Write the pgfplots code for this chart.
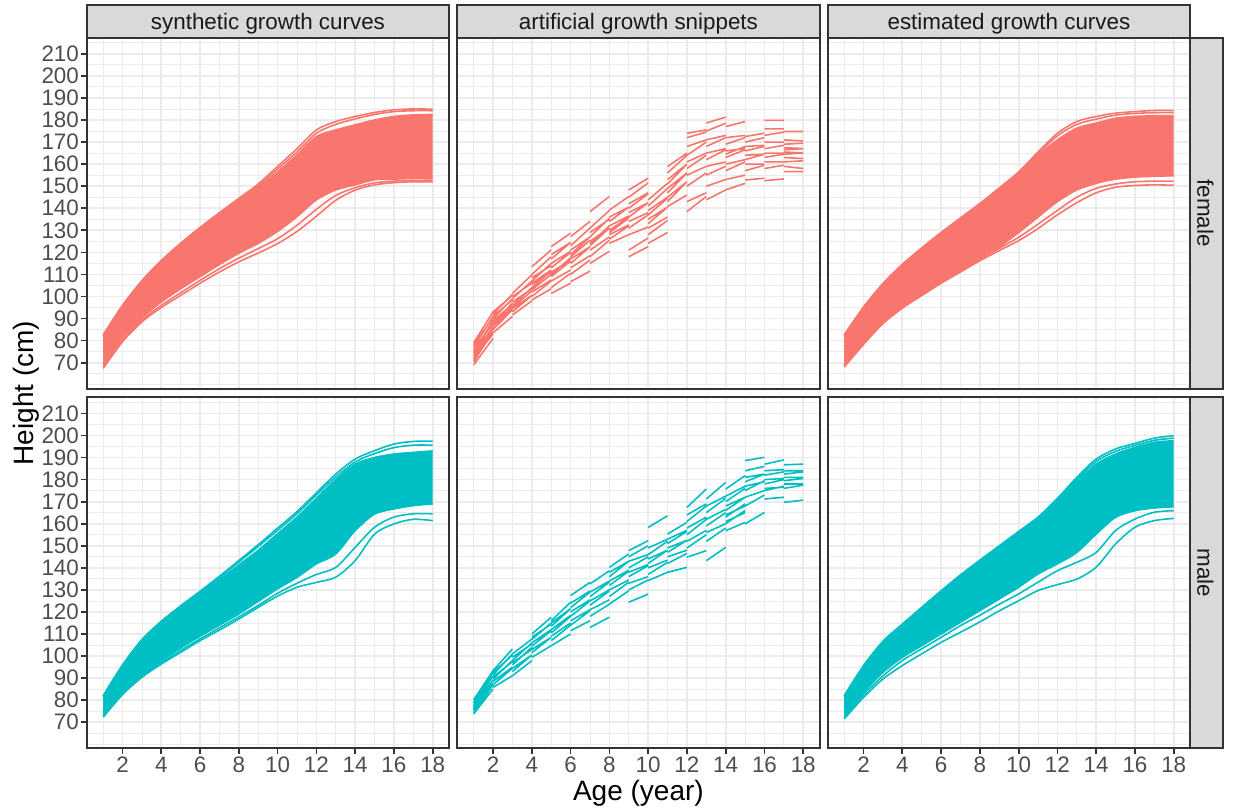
\documentclass[border=0pt]{standalone}
\usepackage{pgfplots}
\pgfplotsset{compat=1.18}
\usepackage{fontspec}
\setmainfont{Liberation Sans}
\definecolor{fem}{HTML}{F8766D}
\definecolor{mal}{HTML}{00BFC4}
\definecolor{g20}{HTML}{333333}
\definecolor{g30}{HTML}{4D4D4D}
\definecolor{g10}{HTML}{1A1A1A}
\definecolor{g85}{HTML}{D9D9D9}
\definecolor{g92}{HTML}{EBEBEB}
\pgfplotsset{
  panel/.style={
    scale only axis, width=181.25pt, height=175.5pt,
    xmin=0.15, xmax=18.85, ymin=58.2, ymax=217.3,
    anchor=south west,
    axis line style={draw=g20, line width=0.85pt},
    xtick={2,4,...,18}, minor xtick={1,3,...,17},
    ytick={70,80,...,210}, minor ytick={60,65,...,215},
    grid=both,
    major grid style={draw=g92, line width=0.85pt},
    minor grid style={draw=g92, line width=0.43pt},
    tick style={draw=g20, line width=0.85pt},
    major tick length=2.7pt, minor tick length=0pt,
    tick align=outside, tick pos=left,
    /pgf/number format/assume math mode=true,
    xticklabel style={font=\fontsize{11.2}{13}\selectfont, text=g30, inner sep=0pt, anchor=north, yshift=-1.5pt},
    yticklabel style={font=\fontsize{11.2}{13}\selectfont, text=g30, inner sep=0pt, anchor=east, xshift=-1pt},
  },
  notop/.style={xticklabels={}, xtick style={draw=none}},
  noleft/.style={yticklabels={}, ytick style={draw=none}},
  cf/.style={fem, line width=0.8pt, smooth},
  cm/.style={mal, line width=0.8pt, smooth},
  sf/.style={fem, line width=0.8pt, unbounded coords=jump},
  sm/.style={mal, line width=0.8pt, unbounded coords=jump},
}
\begin{document}
\begin{tikzpicture}
\path[use as bounding box] (0,0) rectangle (616.5pt,405pt);

% ---------------- top left: synthetic female
\begin{axis}[panel, notop, name=p11, at={(43.35pt,210.65pt)}]
\addplot[fill=fem, draw=none] coordinates {(1,82.2)(2,95.5)(3,106.5)(4,115.5)(5,123.3)(6,130.3)(7,136.8)(8,143.2)(9,149.5)(10,156.5)(11,164.2)(12,172.5)(13,175.5)(14,177.8)(15,180)(16,181.6)(17,182.3)(18,182.5)
(18,153.6)(17,153.5)(16,153.2)(15,152.9)(14,150.6)(13,148.3)(12,143.8)(11,136.2)(10,129.5)(9,124.1)(8,119.6)(7,114.5)(6,109)(5,103.5)(4,97.5)(3,90.3)(2,81.5)(1,69)};
\addplot[cf] coordinates {(1,82.2)(2,95.5)(3,106.5)(4,115.5)(5,123.3)(6,130.3)(7,136.8)(8,143.2)(9,149.5)(10,156.5)(11,164.2)(12,172.5)(13,175.5)(14,177.8)(15,180)(16,181.6)(17,182.3)(18,182.5)};
\addplot[cf] coordinates {(1,69)(2,81.5)(3,90.3)(4,97.5)(5,103.5)(6,109)(7,114.5)(8,119.6)(9,124.1)(10,129.5)(11,136.2)(12,143.8)(13,148.3)(14,150.6)(15,152.9)(16,153.2)(17,153.5)(18,153.6)};
\addplot[cf] coordinates {(1,82.6)(2,96)(3,107.2)(4,116.3)(5,124.2)(6,131.3)(7,138)(8,144.5)(9,151)(10,159)(11,167)(12,175.5)(13,179.3)(14,181.6)(15,183.4)(16,184.6)(17,185)(18,184.9)};
\addplot[cf] coordinates {(1,82.4)(2,95.8)(3,106.9)(4,116)(5,123.8)(6,130.8)(7,137.4)(8,143.8)(9,150.2)(10,157.8)(11,165.5)(12,174)(13,178)(14,180.5)(15,182.5)(16,183.8)(17,184.2)(18,184.2)};
\addplot[cf] coordinates {(1,68)(2,80.3)(3,89.3)(4,96)(5,101.7)(6,107.3)(7,112.6)(8,117.4)(9,121.7)(10,126.2)(11,132.3)(12,139.5)(13,145.8)(14,149.3)(15,151.5)(16,152.3)(17,152.6)(18,152.7)};
\addplot[cf] coordinates {(1,67.4)(2,79.5)(3,88.5)(4,95)(5,100.5)(6,106)(7,111.1)(8,115.7)(9,119.7)(10,124)(11,129.5)(12,136.4)(13,143.6)(14,148.2)(15,150.6)(16,151.6)(17,152)(18,152)};
\end{axis}

% ---------------- top middle: snippets female
\begin{axis}[panel, notop, noleft, name=p12, at={(228.6pt,210.65pt)}]
\addplot[sf] coordinates {
(1,69)(2,81)(2,nan) (1,70.5)(2,84)(2,nan) (1,72)(2,83)(2,nan) (1,73)(2,86.5)(2,nan) (1,74)(2,86)(2,nan) (1,75)(2,89)(2,nan)
(1,76)(2,88)(2,nan) (1,77)(2,91)(2,nan) (1,78)(2,90.5)(2,nan) (1,79)(2,93)(2,nan) (1,71.5)(2,85.5)(2,nan) (1,74.5)(2,88.5)(2,nan)
(2,83.5)(3,91)(3,nan) (2,85)(3,94)(3,nan) (2,86.5)(3,94.5)(3,nan) (2,88)(3,97)(3,nan) (2,89)(3,96.5)(3,nan)
(2,90)(3,99)(3,nan) (2,91)(3,98.5)(3,nan) (2,92)(3,101)(3,nan) (2,93)(3,100.5)(3,nan) (2,87)(3,95.5)(3,nan)
(3,91.6)(4,98)(4,nan) (3,93)(4,100.5)(4,nan) (3,94.5)(4,100.5)(4,nan) (3,96)(4,104)(4,nan) (3,97.5)(4,103.5)(4,nan)
(3,99)(4,107)(4,nan) (3,100)(4,106)(4,nan) (3,101.4)(4,109.8)(4,nan) (3,95)(4,102.5)(4,nan)
(4,98.4)(5,103.5)(5,nan) (4,100)(5,107)(5,nan) (4,102)(5,107.5)(5,nan) (4,104)(5,111.5)(5,nan) (4,105.5)(5,111)(5,nan)
(4,107)(5,115)(5,nan) (4,108.5)(5,114)(5,nan) (4,110)(5,118)(5,nan) (4,113.5)(5,121.1)(5,nan) (4,103)(5,110)(5,nan) (4,106)(5,112)(5,nan)
(5,101.4)(6,106)(6,nan) (5,104)(6,110.5)(6,nan) (5,107)(6,112)(6,nan) (5,109)(6,116)(6,nan) (5,111)(6,116.5)(6,nan)
(5,113)(6,120)(6,nan) (5,115)(6,120.5)(6,nan) (5,117)(6,124.5)(6,nan) (5,119)(6,124.5)(6,nan) (5,122.6)(6,128.7)(6,nan) (5,110)(6,117.5)(6,nan)
(6,106.7)(7,111.5)(7,nan) (6,110)(7,116.5)(7,nan) (6,113)(7,118.5)(7,nan) (6,115)(7,122.5)(7,nan) (6,117)(7,122.5)(7,nan)
(6,119)(7,127)(7,nan) (6,121)(7,127)(7,nan) (6,123)(7,131)(7,nan) (6,127.1)(7,134)(7,nan) (6,118)(7,125.5)(7,nan)
(7,115)(8,120.5)(8,nan) (7,118)(8,125.5)(8,nan) (7,121)(8,127)(8,nan) (7,123)(8,131)(8,nan) (7,125)(8,131)(8,nan)
(7,127)(8,135.5)(8,nan) (7,129)(8,135)(8,nan) (7,131)(8,139)(8,nan) (7,138.5)(8,145.3)(8,nan) (7,124)(8,132)(8,nan)
(8,124.1)(9,128)(9,nan) (8,126)(9,132)(9,nan) (8,128)(9,132.5)(9,nan) (8,130)(9,136)(9,nan) (8,132)(9,136.5)(9,nan)
(8,134)(9,140.5)(9,nan) (8,136)(9,140.5)(9,nan) (8,139.2)(9,145.3)(9,nan) (8,129)(9,135.5)(9,nan)
(9,118)(10,122.6)(10,nan) (9,121)(10,126.5)(10,nan) (9,128)(10,131.5)(10,nan) (9,131)(10,137)(10,nan) (9,134)(10,138)(10,nan)
(9,136)(10,142.5)(10,nan) (9,138)(10,142.5)(10,nan) (9,140)(10,146.5)(10,nan) (9,142)(10,147)(10,nan) (9,145)(10,151.5)(10,nan) (9,148.3)(10,153.6)(10,nan)
(10,124.1)(11,129)(11,nan) (10,128)(11,134.5)(11,nan) (10,131)(11,136)(11,nan) (10,133)(11,140.5)(11,nan) (10,135)(11,140.5)(11,nan)
(10,137)(11,144.5)(11,nan) (10,139)(11,145)(11,nan) (10,141)(11,149)(11,nan) (10,143.8)(11,151.3)(11,nan)
(11,140.8)(12,146)(12,nan) (11,143)(12,152)(12,nan) (11,145)(12,152)(12,nan) (11,147)(12,156)(12,nan) (11,149)(12,156)(12,nan)
(11,151)(12,160)(12,nan) (11,153)(12,160)(12,nan) (11,156)(12,164)(12,nan) (11,158.9)(12,165)(12,nan)
(12,138.5)(13,145.3)(13,nan) (12,143)(13,147)(13,nan) (12,150)(13,156)(13,nan) (12,155)(13,159)(13,nan) (12,158)(13,164)(13,nan)
(12,161)(13,165)(13,nan) (12,164)(13,170)(13,nan) (12,168)(13,171)(13,nan) (12,172)(13,174.5)(13,nan) (12,174)(13,175.5)(13,nan)
(13,143.8)(14,148.3)(14,nan) (13,150)(14,153)(14,nan) (13,155)(14,159)(14,nan) (13,159)(14,161)(14,nan) (13,162)(14,166.5)(14,nan)
(13,165)(14,167)(14,nan) (13,168)(14,172)(14,nan) (13,171)(14,173)(14,nan) (13,175)(14,178.5)(14,nan) (13,178.6)(14,181.3)(14,nan)
(14,148.3)(15,151.3)(15,nan) (14,153)(15,155)(15,nan) (14,157)(15,161)(15,nan) (14,160)(15,162)(15,nan) (14,163)(15,166.5)(15,nan)
(14,166)(15,167)(15,nan) (14,169)(15,172)(15,nan) (14,172)(15,173)(15,nan) (14,177)(15,179.3)(15,nan) (14,164.5)(15,168)(15,nan)
(15,152.8)(16,153.6)(16,nan) (15,157)(16,159.5)(16,nan) (15,160)(16,160)(16,nan) (15,162)(16,164.5)(16,nan) (15,164)(16,164.5)(16,nan)
(15,166)(16,168)(16,nan) (15,168)(16,168.5)(16,nan) (15,170)(16,172)(16,nan) (15,172.5)(16,174)(16,nan)
(16,152.5)(17,153.3)(17,nan) (16,158)(17,159.5)(17,nan) (16,161)(17,161)(17,nan) (16,163)(17,164.5)(17,nan) (16,165)(17,165)(17,nan)
(16,167)(17,168.5)(17,nan) (16,170)(17,170)(17,nan) (16,173)(17,174.5)(17,nan) (16,176)(17,176)(17,nan) (16,179.8)(17,179.8)(17,nan)
(17,156.6)(18,156.6)(18,nan) (17,159)(18,158)(18,nan) (17,161)(18,161.5)(18,nan) (17,163)(18,162.5)(18,nan) (17,164.5)(18,165)(18,nan)
(17,165.5)(18,165)(18,nan) (17,166.5)(18,167)(18,nan) (17,167.5)(18,167)(18,nan) (17,169)(18,169.5)(18,nan) (17,171)(18,170.5)(18,nan) (17,174.8)(18,174.8)
};
\end{axis}

% ---------------- top right: estimated female
\begin{axis}[panel, notop, noleft, name=p13, at={(413.85pt,210.65pt)}]
\addplot[fill=fem, draw=none] coordinates {(1,82.2)(2,94.8)(3,105.3)(4,114)(5,121.5)(6,128.5)(7,135)(8,141.5)(9,148.5)(10,155.5)(11,164)(12,171)(13,176.3)(14,178.6)(15,180.8)(16,181.6)(17,181.9)(18,181.9)
(18,154.7)(17,154.5)(16,154.1)(15,153.2)(14,151.3)(13,148.3)(12,143)(11,136)(10,129)(9,122.5)(8,117.5)(7,112)(6,106.8)(5,101)(4,95.3)(3,88.3)(2,79)(1,69)};
\addplot[cf] coordinates {(1,82.2)(2,94.8)(3,105.3)(4,114)(5,121.5)(6,128.5)(7,135)(8,141.5)(9,148.5)(10,155.5)(11,164)(12,171)(13,176.3)(14,178.6)(15,180.8)(16,181.6)(17,181.9)(18,181.9)};
\addplot[cf] coordinates {(1,69)(2,79)(3,88.3)(4,95.3)(5,101)(6,106.8)(7,112)(8,117.5)(9,122.5)(10,129)(11,136)(12,143)(13,148.3)(14,151.3)(15,153.2)(16,154.1)(17,154.5)(18,154.7)};
\addplot[cf] coordinates {(1,82.6)(2,95.2)(3,105.9)(4,114.6)(5,122)(6,129)(7,135.6)(8,142.2)(9,149.2)(10,156.5)(11,165.5)(12,174)(13,179.3)(14,181.6)(15,183.1)(16,183.8)(17,184.3)(18,184.3)};
\addplot[cf] coordinates {(1,82.4)(2,95)(3,105.6)(4,114.3)(5,121.8)(6,128.8)(7,135.3)(8,141.8)(9,148.8)(10,156)(11,164.8)(12,172.8)(13,178)(14,180.4)(15,182.2)(16,183)(17,183.3)(18,183.3)};
\addplot[cf] coordinates {(1,68.5)(2,78.6)(3,88)(4,95)(5,100.7)(6,106.4)(7,111.6)(8,116.8)(9,121.8)(10,126.8)(11,132.8)(12,139)(13,145)(14,149)(15,151)(16,152)(17,152.3)(18,152.3)};
\addplot[cf] coordinates {(1,68)(2,78.3)(3,87.7)(4,94.7)(5,100.4)(6,106)(7,111.1)(8,116.2)(9,120.8)(10,125.3)(11,130.8)(12,137)(13,142.5)(14,147)(15,149.5)(16,150.3)(17,150.6)(18,150.4)};
\end{axis}

% ---------------- bottom left: synthetic male
\begin{axis}[panel, name=p21, at={(43.35pt,30.85pt)}]
\addplot[fill=mal, draw=none] coordinates {(1,81.5)(2,95.5)(3,106.8)(4,115)(5,122)(6,128.3)(7,134.7)(8,141.3)(9,148)(10,155.5)(11,163)(12,171.5)(13,180)(14,187)(15,190)(16,191.6)(17,192.3)(18,193)
(18,169)(17,168.2)(16,166.7)(15,164.4)(14,156.9)(13,146.3)(12,141.8)(11,135.7)(10,130.5)(9,124.8)(8,119.1)(7,114)(6,109)(5,103.6)(4,97.8)(3,91)(2,83)(1,73)};
\addplot[cm] coordinates {(1,81.5)(2,95.5)(3,106.8)(4,115)(5,122)(6,128.3)(7,134.7)(8,141.3)(9,148)(10,155.5)(11,163)(12,171.5)(13,180)(14,187)(15,190)(16,191.6)(17,192.3)(18,193)};
\addplot[cm] coordinates {(1,73)(2,83)(3,91)(4,97.8)(5,103.6)(6,109)(7,114)(8,119.1)(9,124.8)(10,130.5)(11,135.7)(12,141.8)(13,146.3)(14,156.9)(15,164.4)(16,166.7)(17,168.2)(18,169)};
\addplot[cm] coordinates {(1,82)(2,96)(3,107.5)(4,115.8)(5,122.8)(6,129.4)(7,136.2)(8,143.3)(9,150.5)(10,158)(11,165.5)(12,174)(13,182.5)(14,189.3)(15,193.1)(16,196.1)(17,197.3)(18,197.4)};
\addplot[cm] coordinates {(1,81.8)(2,95.8)(3,107.2)(4,115.5)(5,122.5)(6,129)(7,135.6)(8,142.6)(9,149.7)(10,157)(11,164.5)(12,173)(13,181.2)(14,188)(15,191.8)(16,194.5)(17,195.6)(18,195.6)};
\addplot[cm] coordinates {(1,72.6)(2,82.8)(3,90.6)(4,97)(5,102.5)(6,107.8)(7,112.8)(8,117.8)(9,123)(10,128.5)(11,133)(12,137)(13,140.2)(14,149.3)(15,158.4)(16,163)(17,164.5)(18,164.5)};
\addplot[cm] coordinates {(1,72.3)(2,82.6)(3,90.4)(4,96.4)(5,101.7)(6,107)(7,111.8)(8,116.8)(9,122.1)(10,127.2)(11,131.2)(12,133.4)(13,135.8)(14,143.3)(15,155.3)(16,159.9)(17,162)(18,161.4)};
\end{axis}

% ---------------- bottom middle: snippets male
\begin{axis}[panel, noleft, name=p22, at={(228.6pt,30.85pt)}]
\addplot[sm] coordinates {
(1,73.8)(2,85.1)(2,nan) (1,74.5)(2,87)(2,nan) (1,75.5)(2,87)(2,nan) (1,76)(2,89)(2,nan) (1,77)(2,89)(2,nan)
(1,77.5)(2,91)(2,nan) (1,78.5)(2,91)(2,nan) (1,79)(2,92.8)(2,nan) (1,80.2)(2,93.4)(2,nan) (1,76.5)(2,87.5)(2,nan)
(2,85.8)(3,91.1)(3,nan) (2,87)(3,94.5)(3,nan) (2,88.5)(3,95)(3,nan) (2,89.5)(3,98)(3,nan) (2,90.5)(3,97.5)(3,nan)
(2,91.5)(3,101)(3,nan) (2,92.5)(3,100.5)(3,nan) (2,93.4)(3,103.2)(3,nan)
(3,91.1)(4,97.9)(4,nan) (3,93)(4,100.5)(4,nan) (3,94.5)(4,100.5)(4,nan) (3,96)(4,104)(4,nan) (3,97)(4,103)(4,nan)
(3,98)(4,106)(4,nan) (3,99.5)(4,105.5)(4,nan) (3,101)(4,107.7)(4,nan)
(4,99.4)(5,104.7)(5,nan) (4,101.5)(5,108.5)(5,nan) (4,103)(5,108.5)(5,nan) (4,104.5)(5,111.5)(5,nan) (4,106)(5,112)(5,nan)
(4,107.5)(5,115)(5,nan) (4,108.5)(5,114.5)(5,nan) (4,110)(5,117.6)(5,nan)
(5,104.7)(6,110)(6,nan) (5,107)(6,114)(6,nan) (5,109)(6,115)(6,nan) (5,110.5)(6,118)(6,nan) (5,112)(6,118.5)(6,nan)
(5,113.5)(6,121.5)(6,nan) (5,115)(6,121.5)(6,nan) (5,116)(6,124.4)(6,nan)
(6,111.5)(7,116)(7,nan) (6,114)(7,120.5)(7,nan) (6,116)(7,121)(7,nan) (6,118)(7,125)(7,nan) (6,120)(7,125.5)(7,nan)
(6,122)(7,129)(7,nan) (6,124)(7,129.5)(7,nan) (6,127.4)(7,133.4)(7,nan)
(7,113)(8,117.6)(8,nan) (7,118)(8,123.5)(8,nan) (7,121)(8,125.5)(8,nan) (7,123)(8,129.5)(8,nan) (7,125)(8,130)(8,nan)
(7,127)(8,133.5)(8,nan) (7,129)(8,134)(8,nan) (7,132.7)(8,138.7)(8,nan)
(8,123.6)(9,129.6)(9,nan) (8,127)(9,133.5)(9,nan) (8,130)(9,134.5)(9,nan) (8,132)(9,138.5)(9,nan) (8,134)(9,139)(9,nan)
(8,136)(9,143)(9,nan) (8,138)(9,143)(9,nan) (8,140.2)(9,146.3)(9,nan)
(9,124.4)(10,128.1)(10,nan) (9,130)(10,134.5)(10,nan) (9,133)(10,136)(10,nan) (9,136)(10,141)(10,nan) (9,138)(10,141.5)(10,nan)
(9,140)(10,145)(10,nan) (9,143)(10,146)(10,nan) (9,145)(10,150)(10,nan) (9,147.8)(10,152.3)(10,nan)
(10,134.2)(11,138)(11,nan) (10,137)(11,142.5)(11,nan) (10,140)(11,143.5)(11,nan) (10,142)(11,148)(11,nan) (10,144)(11,148)(11,nan)
(10,146)(11,152)(11,nan) (10,149)(11,153)(11,nan) (10,158.3)(11,163.6)(11,nan)
(11,138)(12,140.2)(12,nan) (11,142)(12,146.5)(12,nan) (11,145)(12,148)(12,nan) (11,147)(12,152.5)(12,nan) (11,149)(12,152.5)(12,nan)
(11,151)(12,156.5)(12,nan) (11,153)(12,157)(12,nan) (11,155.3)(12,160.6)(12,nan)
(12,144.8)(13,147.8)(13,nan) (12,149)(13,155)(13,nan) (12,152)(13,157)(13,nan) (12,155)(13,162)(13,nan) (12,158)(13,163)(13,nan)
(12,161)(13,168)(13,nan) (12,164)(13,169)(13,nan) (12,167.4)(13,175.7)(13,nan)
(13,143.2)(14,149.3)(14,nan) (13,152)(14,158)(14,nan) (13,156)(14,160)(14,nan) (13,159)(14,165)(14,nan) (13,162)(14,166.5)(14,nan)
(13,165)(14,171.5)(14,nan) (13,168)(14,172.5)(14,nan) (13,171.2)(14,178.7)(14,nan)
(14,156.8)(15,160.6)(15,nan) (14,160)(15,166)(15,nan) (14,161)(15,165)(15,nan) (14,163)(15,169)(15,nan) (14,164)(15,168)(15,nan)
(14,166)(15,172)(15,nan) (14,168)(15,172)(15,nan) (14,170)(15,176)(15,nan) (14,172.5)(15,177)(15,nan) (14,175.7)(15,181.8)(15,nan)
(15,159.9)(16,165.1)(16,nan) (15,168)(16,173)(16,nan) (15,172)(16,175)(16,nan) (15,175)(16,179.5)(16,nan) (15,177)(16,179)(16,nan)
(15,179)(16,182.5)(16,nan) (15,181)(16,182.5)(16,nan) (15,184)(16,186)(16,nan) (15,188.6)(16,190.1)(16,nan)
(16,171.2)(17,172)(17,nan) (16,175)(17,177)(17,nan) (16,176)(17,176.5)(17,nan) (16,178)(17,180)(17,nan) (16,180)(17,180.5)(17,nan)
(16,182)(17,183.5)(17,nan) (16,184)(17,184.5)(17,nan) (16,187)(17,188.9)(17,nan)
(17,169.7)(18,170.7)(18,nan) (17,176)(18,177.5)(18,nan) (17,178)(18,178)(18,nan) (17,179.5)(18,180.5)(18,nan) (17,181)(18,181)(18,nan)
(17,182.5)(18,183.5)(18,nan) (17,184)(18,184)(18,nan) (17,186.7)(18,187)
};
\end{axis}

% ---------------- bottom right: estimated male
\begin{axis}[panel, noleft, name=p23, at={(413.85pt,30.85pt)}]
\addplot[fill=mal, draw=none] coordinates {(1,81.5)(2,95)(3,106)(4,114)(5,121.5)(6,129)(7,136.2)(8,142.8)(9,149.2)(10,155.5)(11,161.8)(12,170)(13,179)(14,187)(15,191.6)(16,194.6)(17,196.9)(18,197.6)
(18,167.7)(17,167.1)(16,165.9)(15,162.9)(14,155.3)(13,147)(12,141.8)(11,137.2)(10,131.2)(9,125.9)(8,120.6)(7,115.3)(6,110)(5,104.7)(4,99.4)(3,92.6)(2,83.6)(1,72.5)};
\addplot[cm] coordinates {(1,81.5)(2,95)(3,106)(4,114)(5,121.5)(6,129)(7,136.2)(8,142.8)(9,149.2)(10,155.5)(11,161.8)(12,170)(13,179)(14,187)(15,191.6)(16,194.6)(17,196.9)(18,197.6)};
\addplot[cm] coordinates {(1,72.5)(2,83.6)(3,92.6)(4,99.4)(5,104.7)(6,110)(7,115.3)(8,120.6)(9,125.9)(10,131.2)(11,137.2)(12,141.8)(13,147)(14,155.3)(15,162.9)(16,165.9)(17,167.1)(18,167.7)};
\addplot[cm] coordinates {(1,82)(2,95.7)(3,106.7)(4,114.5)(5,122.1)(6,129.6)(7,136.8)(8,143.5)(9,150)(10,156.5)(11,163)(12,171.5)(13,181)(14,189.3)(15,193.9)(16,196.4)(17,198.8)(18,199.9)};
\addplot[cm] coordinates {(1,81.8)(2,95.4)(3,106.4)(4,114.2)(5,121.8)(6,129.3)(7,136.5)(8,143.1)(9,149.6)(10,156)(11,162.4)(12,170.8)(13,180)(14,188.2)(15,192.8)(16,195.5)(17,197.8)(18,198.8)};
\addplot[cm] coordinates {(1,72)(2,82.5)(3,91)(4,98)(5,103.3)(6,108.5)(7,113.8)(8,118.5)(9,123.5)(10,128.2)(11,133.5)(12,138.7)(13,142.5)(14,147)(15,156.9)(16,162.1)(17,165.2)(18,165.9)};
\addplot[cm] coordinates {(1,71.5)(2,81.3)(3,89.6)(4,95.7)(5,101)(6,106.2)(7,110.8)(8,115.5)(9,120.5)(10,125.1)(11,129.7)(12,132.4)(13,134.9)(14,140.3)(15,150.8)(16,158.4)(17,161.4)(18,162.4)};
\end{axis}

% ---------------- strips
\foreach \p/\t in {p11/synthetic growth curves, p12/artificial growth snippets, p13/estimated growth curves}{
  \draw[fill=g85, draw=g20, line width=0.85pt] (\p.north west) rectangle ([yshift=16.5pt]\p.north east);
  \node[anchor=base, inner sep=0pt, text=g10, font=\fontsize{11.2}{13}\selectfont] at ([yshift=4.2pt]\p.north) {\t};
}
\foreach \p/\t in {p13/female, p23/male}{
  \draw[fill=g85, draw=g20, line width=0.85pt] (\p.south east) rectangle ([xshift=16.5pt]\p.north east);
  \node[anchor=base, rotate=-90, inner sep=0pt, text=g10, font=\fontsize{11.2}{13}\selectfont] at ([xshift=3.6pt]\p.east) {\t};
}
% ---------------- axis titles
\node[anchor=base, inner sep=0pt, font=\fontsize{14}{16}\selectfont] at (319.2pt,4.65pt) {Age (year)};
\node[anchor=base, rotate=90, inner sep=0pt, font=\fontsize{14}{16}\selectfont] at (16.7pt,208.5pt) {Height (cm)};
\end{tikzpicture}
\end{document}
